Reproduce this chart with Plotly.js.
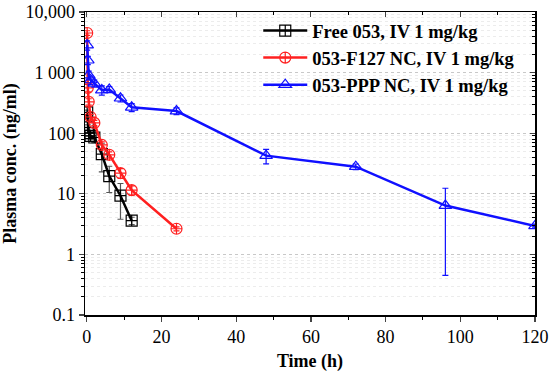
<!DOCTYPE html>
<html><head><meta charset="utf-8">
<script src="https://cdn.plot.ly/plotly-3.0.1.min.js"></script>
<style>html,body{margin:0;padding:0;background:#fff}#g{width:550px;height:376px}</style>
</head><body><div id="g"></div>
<script>
const timeFree = [0.083,0.25,0.5,1,2,4,6,9,12];
const concFree = [220,125,100,90,85,45,19.5,9.3,3.6];
const errFree  = [20,12,10,12,15,22,9,5.5,0.5];
const timeF127 = [0.083,0.25,0.5,1,2,4,6,9,12,24];
const concF127 = [4500,560,330,185,148,64,44,22,11.5,2.65];
const errF127  = [400,80,40,20,15,8,5,4,2,0.2];
const timePPP  = [0.083,0.25,0.5,1,2,4,6,9,12,24,48,72,96,120];
const concPPP  = [2850,1600,910,755,665,515,525,377,267,232,42.6,28,6.4,2.95];
const errPPP   = [500,250,150,120,90,90,60,50,40,30,11.5,3,5.95,0.2];
const names = ["Free 053, IV 1 mg/kg","053-F127 NC, IV 1 mg/kg","053-PPP NC, IV 1 mg/kg"];
const yTickVals = [0.1,1,10,100,1000,10000];
const yTickText = ["0.1","1","10","100","1 000","10,000"];

const minorY = [];
for (let d=-1; d<4; d++) for (let k=2; k<10; k++) minorY.push(k*Math.pow(10,d));

function tr(x,y,e,name,color,errColor,symbol){
  return {x:x,y:y,name:name,type:'scatter',mode:'lines+markers',
    line:{color:color,width:2.5},
    marker:{symbol:symbol,size:11,color:color,line:{color:color,width:1.2}},
    error_y:{type:'data',array:e,visible:true,color:errColor,thickness:1.2,width:3}};
}
const data = [
  tr(timeFree,concFree,errFree,names[0],'#000000','#555555','square-cross-open'),
  tr(timeF127,concF127,errF127,names[1],'#ff2020','#ff2020','circle-cross-open'),
  tr(timePPP,concPPP,errPPP,names[2],'#1010ff','#1010ff','triangle-up-open'),
  {x:[0],y:[1],xaxis:'x2',yaxis:'y2',mode:'markers',marker:{opacity:0},showlegend:false,hoverinfo:'skip'}
];
const FAM = 'Times New Roman, Liberation Serif, serif';
const layout = {
  width:550,height:376,
  margin:{l:85,r:15,t:12,b:61},
  paper_bgcolor:'#fff',plot_bgcolor:'#fff',
  font:{family:FAM,size:17,color:'#000'},
  showlegend:true,
  legend:{x:0.385,y:1.0,xanchor:'left',yanchor:'top',bgcolor:'rgba(0,0,0,0)',
    font:{family:FAM,size:18.5,color:'#000',weight:'bold'},tracegroupgap:0,itemwidth:44},
  xaxis:{range:[-0.5,120],tickvals:[0,20,40,60,80,100,120],ticks:'outside',ticklen:5,tickwidth:1.2,
    showline:true,linecolor:'#000',linewidth:1.5,showgrid:false,zeroline:false,
    minor:{tickvals:[10,30,50,70,90,110],ticks:'outside',ticklen:3,tickwidth:1,tickcolor:'#000'},
    tickfont:{family:FAM,size:18,color:'#000'},
    title:{text:'<b>Time (h)</b>',font:{family:FAM,size:18,color:'#000'},standoff:8}},
  yaxis:{type:'log',range:[-1,4],tickvals:yTickVals,ticktext:yTickText,ticks:'outside',ticklen:5,tickwidth:1.2,
    showline:true,linecolor:'#000',linewidth:1.5,zeroline:false,
    showgrid:true,gridcolor:'#c8c8c8',griddash:'dot',gridwidth:1,
    minor:{tickvals:minorY,ticks:'outside',ticklen:3,tickwidth:1,tickcolor:'#000',showgrid:true,gridcolor:'#ececec',gridwidth:1},
    tickfont:{family:FAM,size:18,color:'#000'},
    title:{text:'<b>Plasma conc. (ng/ml)</b>',font:{family:FAM,size:18,color:'#000'},standoff:6}},
  xaxis2:{overlaying:'x',side:'top',anchor:'y2',range:[-0.5,120],tickvals:[0,20,40,60,80,100,120],ticks:'inside',ticklen:5,
    showticklabels:false,showline:true,linecolor:'#000',linewidth:1.5,showgrid:false,zeroline:false,
    minor:{tickvals:[10,30,50,70,90,110],ticks:'inside',ticklen:3,tickcolor:'#000'}},
  yaxis2:{overlaying:'y',side:'right',anchor:'x2',type:'log',range:[-1,4],tickvals:yTickVals,ticks:'inside',ticklen:5,
    showticklabels:false,showline:true,linecolor:'#000',linewidth:1.5,showgrid:false,zeroline:false,
    minor:{tickvals:minorY,ticks:'inside',ticklen:3,tickcolor:'#000'}}
};
Plotly.newPlot('g',data,layout,{displayModeBar:false,staticPlot:true});
</script></body></html>
